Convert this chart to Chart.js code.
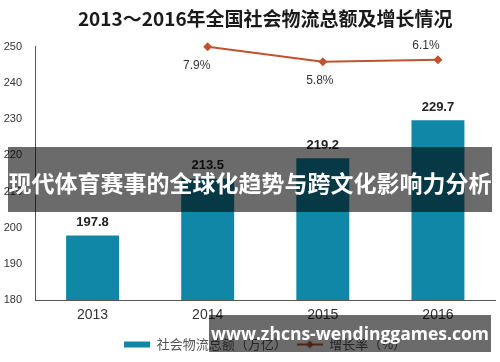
<!DOCTYPE html>
<html>
<head>
<meta charset="utf-8">
<script src="https://cdn.jsdelivr.net/npm/chart.js@4/dist/chart.umd.min.js"></script>
<style>
  html, body { margin: 0; padding: 0; background: #fff; }
  #wrap { position: relative; width: 500px; height: 362px; }
  #c { display: block; }
  .banner {
    position: absolute; background: rgba(0,0,0,0.58); color: #fff;
    font-weight: 700; text-align: center; white-space: nowrap; overflow: hidden;
  }
  #b1 { left: 8px; top: 147px; width: 484px; height: 65px; line-height: 70px;
        font-family: "Noto Sans CJK SC", sans-serif; font-size: 23px; }
  #b2 { left: 209px; top: 315px; width: 282px; height: 37px; line-height: 36px;
        font-family: "Open Sans", "Noto Sans", sans-serif; font-size: 17.5px; }
</style>
</head>
<body>
<div id="wrap">
  <canvas id="c" width="500" height="362"></canvas>
  <div class="banner" id="b1">现代体育赛事的全球化趋势与跨文化影响力分析</div>
  <div class="banner" id="b2">www.zhcns-wendinggames.com</div>
</div>
<script>
const chartTitle = "2013～2016年全国社会物流总额及增长情况";
const categories = ["2013", "2014", "2015", "2016"];
const totalValues = [197.8, 213.5, 219.2, 229.7];      // 万亿
const growthValues = [null, 7.9, 5.8, 6.1];             // %
const seriesNames = ["社会物流总额（万亿）", "增长率（%）"];
const yTicks = { min: 180, max: 250, step: 10 };

const BAR_COLOR = "#1087a6";
const LINE_COLOR = "#c0532f";

function makeIcon(kind) {
  const cv = document.createElement("canvas");
  cv.width = 26; cv.height = 10;
  const g = cv.getContext("2d");
  if (kind === "bar") {
    g.fillStyle = BAR_COLOR; g.fillRect(0, 2, 26, 6);
  } else {
    g.strokeStyle = LINE_COLOR; g.lineWidth = 2;
    g.beginPath(); g.moveTo(0, 5); g.lineTo(26, 5); g.stroke();
    g.fillStyle = LINE_COLOR;
    g.beginPath(); g.moveTo(13, 1); g.lineTo(17, 5); g.lineTo(13, 9); g.lineTo(9, 5); g.closePath(); g.fill();
  }
  return cv;
}
const icons = [makeIcon("bar"), makeIcon("line")];

const valueLabels = {
  id: "valueLabels",
  afterDatasetsDraw(chart) {
    const ctx = chart.ctx;
    ctx.save();
    ctx.textAlign = "center";
    ctx.textBaseline = "middle";
    const barMeta = chart.getDatasetMeta(0);
    ctx.font = "bold 13px 'Liberation Sans', Arial, sans-serif";
    ctx.fillStyle = "#222";
    barMeta.data.forEach((el, i) => {
      ctx.fillText(totalValues[i].toFixed(1), el.x, el.y - 13);
    });
    const lineMeta = chart.getDatasetMeta(1);
    ctx.font = "12px 'Liberation Sans', Arial, sans-serif";
    ctx.fillStyle = "#333";
    const offs = [null, [-11, 19], [-3, 19], [-12, -14]];
    lineMeta.data.forEach((el, i) => {
      if (growthValues[i] == null) return;
      const o = offs[i];
      ctx.fillText(growthValues[i].toFixed(1) + "%", el.x + o[0], el.y + o[1]);
    });
    ctx.restore();
  }
};

new Chart(document.getElementById("c"), {
  data: {
    labels: categories,
    datasets: [
      {
        type: "bar", label: seriesNames[0], data: totalValues,
        backgroundColor: BAR_COLOR, barPercentage: 0.46, categoryPercentage: 1,
        yAxisID: "y", order: 2
      },
      {
        type: "line", label: seriesNames[1], data: growthValues,
        borderColor: LINE_COLOR, backgroundColor: LINE_COLOR, borderWidth: 2,
        pointStyle: "rectRot", pointRadius: 4.5, pointBackgroundColor: LINE_COLOR,
        pointBorderWidth: 0, spanGaps: false, yAxisID: "y1", order: 1, tension: 0,
        clip: false
      }
    ]
  },
  options: {
    responsive: false, animation: false,
    layout: { padding: { left: 0, right: 4, top: 0, bottom: 1 } },
    plugins: {
      tooltip: { enabled: false },
      title: {
        display: true, text: chartTitle, color: "#1a1a1a", fullSize: false,
        font: { family: "'Noto Sans CJK SC', sans-serif", size: 19, weight: "bold", lineHeight: 1.2 },
        padding: { top: 7, bottom: 17 }
      },
      legend: {
        display: true, position: "bottom", fullSize: false,
        labels: {
          usePointStyle: true, pointStyleWidth: 26, boxHeight: 10,
          color: "#555", padding: 10,
          font: { family: "'Noto Sans CJK SC', sans-serif", size: 13 },
          generateLabels: (chart) => seriesNames.map((n, i) => ({
            text: n, pointStyle: icons[i], fillStyle: "transparent",
            strokeStyle: "transparent", lineWidth: 0, datasetIndex: i, fontColor: "#555"
          }))
        }
      }
    },
    scales: {
      x: {
        grid: { display: false, drawTicks: false },
        border: { display: true, color: "#555", width: 1 },
        ticks: { color: "#333", padding: 7, font: { family: "'Liberation Sans', Arial, sans-serif", size: 14 } },
        afterFit: (s) => { s.height = 28; }
      },
      y: {
        min: yTicks.min, max: yTicks.max,
        grid: { display: false, drawTicks: false },
        border: { display: true, color: "#555", width: 1 },
        ticks: { stepSize: yTicks.step, color: "#333", padding: 13, font: { family: "'Liberation Sans', Arial, sans-serif", size: 11 } },
        afterFit: (s) => { s.width = 35; }
      },
      y1: {
        display: false, min: -27.5, max: 7.9
      }
    }
  },
  plugins: [valueLabels]
});
</script>
</body>
</html>
